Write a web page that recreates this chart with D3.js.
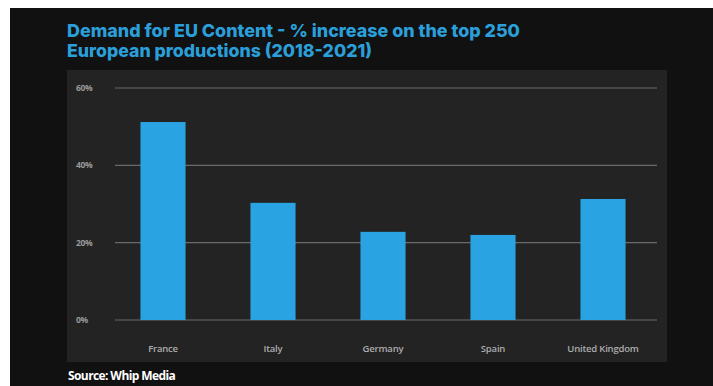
<!DOCTYPE html>
<html>
<head>
<meta charset="utf-8">
<script src="https://cdn.jsdelivr.net/npm/d3@7"></script>
<style>
  body { margin: 0; background: #fff; }
  svg { display: block; }
</style>
</head>
<body>
<div id="chart"></div>
<script>
// Data
const countries = ['France', 'Italy', 'Germany', 'Spain', 'United Kingdom'];
const increase = [51.2, 30.3, 22.8, 22.0, 31.3];
const yTicks = [0, 20, 40, 60];

const width = 713;
const height = 386;

const svg = d3.select('#chart')
    .append('svg')
    .attr('width', width)
    .attr('height', height);

// Dark background, leaving the thin white strip at top and left
svg.append('rect')
    .attr('x', 10).attr('y', 8)
    .attr('width', width - 10).attr('height', height - 8)
    .attr('fill', '#111111');

// Plot panel
svg.append('rect')
    .attr('x', 67).attr('y', 70)
    .attr('width', 600).attr('height', 292)
    .attr('fill', '#232323');

// Title (original font is a rounded geometric one, fit to its measured width)
const titleLines = [
    { text: 'Demand for EU Content - % increase on the top 250', y: 37, len: 453 },
    { text: 'European productions (2018-2021)', y: 57, len: 305 }
];
svg.append('g')
    .selectAll('text')
    .data(titleLines)
    .enter()
    .append('text')
    .attr('x', 67)
    .attr('y', d => d.y)
    .attr('textLength', d => d.len)
    .attr('lengthAdjust', 'spacingAndGlyphs')
    .attr('fill', '#2b9fd9')
    .style('font-family', 'Inter, "Open Sans", sans-serif')
    .style('font-weight', 800)
    .style('font-size', '18px')
    .text(d => d.text);

// Scales
const x = d3.scaleBand()
    .domain(countries)
    .range([108, 658])
    .paddingInner(0.59)
    .paddingOuter(0.295);

const y = d3.scaleLinear()
    .domain([0, 60])
    .range([320, 88]);

// Gridlines
svg.append('g')
    .selectAll('line')
    .data(yTicks)
    .enter()
    .append('line')
    .attr('x1', 115)
    .attr('x2', 657)
    .attr('y1', d => y(d))
    .attr('y2', d => y(d))
    .attr('stroke', '#6a6a6a')
    .attr('stroke-width', 1.2);

// Y tick labels
svg.append('g')
    .selectAll('text')
    .data(yTicks)
    .enter()
    .append('text')
    .attr('x', 76)
    .attr('y', d => y(d) + 3)
    .attr('fill', '#9a9a9a')
    .style('font-family', '"Open Sans", sans-serif')
    .style('font-weight', 700)
    .style('font-size', '8.5px')
    .style('letter-spacing', '-0.3px')
    .text(d => d + '%');

// Bars
svg.append('g')
    .selectAll('rect')
    .data(countries)
    .enter()
    .append('rect')
    .attr('x', d => x(d))
    .attr('width', x.bandwidth())
    .attr('y', (d, i) => y(increase[i]))
    .attr('height', (d, i) => y(0) - y(increase[i]))
    .attr('fill', '#29a3e2');

// Category labels
svg.append('g')
    .selectAll('text')
    .data(countries)
    .enter()
    .append('text')
    .attr('x', d => x(d) + x.bandwidth() / 2)
    .attr('y', 352)
    .attr('text-anchor', 'middle')
    .attr('fill', '#acacac')
    .style('font-family', '"Open Sans", sans-serif')
    .style('font-weight', 600)
    .style('font-size', '9.5px')
    .style('letter-spacing', '-0.2px')
    .text(d => d);

// Source
svg.append('text')
    .attr('x', 68)
    .attr('y', 380)
    .attr('fill', '#ffffff')
    .style('font-family', '"Open Sans", sans-serif')
    .style('font-weight', 700)
    .style('font-size', '12px')
    .style('letter-spacing', '-0.6px')
    .text('Source: Whip Media');
</script>
</body>
</html>
